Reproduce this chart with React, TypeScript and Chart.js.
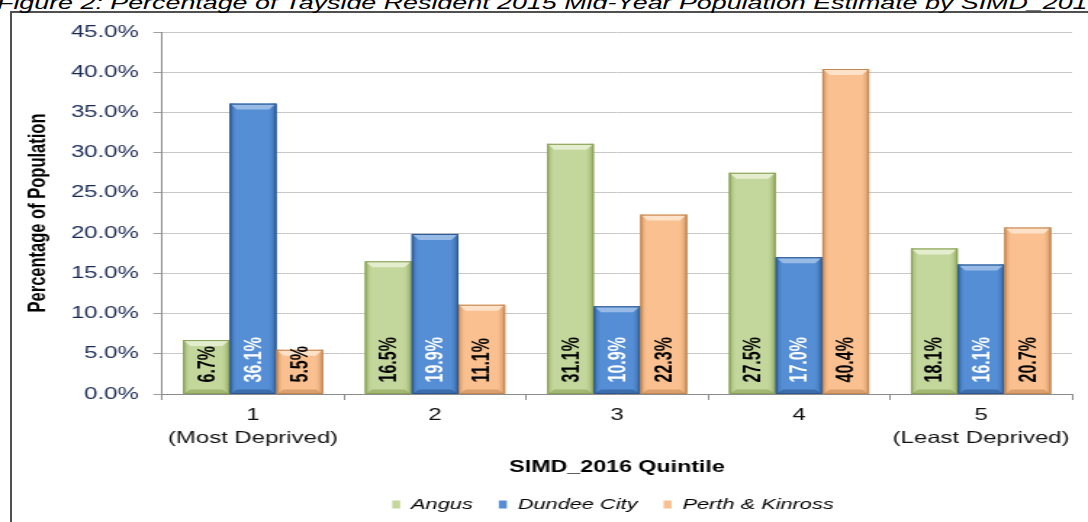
import React, { useEffect, useRef } from 'react';
import { Chart, registerables } from 'chart.js';

Chart.register(...registerables);

// ---- data ----
const categories: string[][] = [['1', '(Most Deprived)'], ['2'], ['3'], ['4'], ['5', '(Least Deprived)']];
const seriesNames = ['Angus', 'Dundee City', 'Perth & Kinross'];
const angus = [6.7, 16.5, 31.1, 27.5, 18.1];
const dundee = [36.1, 19.9, 10.9, 17.0, 16.1];
const perth = [5.5, 11.1, 22.3, 40.4, 20.7];
const yMin = 0;
const yMax = 45;
const yStep = 5;
const titleText = 'Figure 2: Percentage of Tayside Resident 2015 Mid-Year Population Estimate by SIMD_2016 Quintile';
const yTitle = 'Percentage of Population';
const xTitle = 'SIMD_2016 Quintile';

// ---- styling ----
const STRETCH = 1.45;
const PAGE_W = 1088;
const PAGE_H = 522;
const W = Math.round(PAGE_W / STRETCH);
const FONT = '"Liberation Sans", Arial, Helvetica, sans-serif';
const LEGEND_SHIFT = 53;

const palettes = [
  { base: '#c3d69b', dark: '#8aa257', light: '#e4eecf', text: '#000000' },
  { base: '#558ed5', dark: '#2b5892', light: '#97bbe6', text: '#ffffff' },
  { base: '#fac090', dark: '#c48852', light: '#fde2c9', text: '#000000' },
];

const legendShift = {
  id: 'legendShift',
  afterLayout(chart: any) {
    const lg = chart.legend;
    if (lg) {
      lg.left += LEGEND_SHIFT;
      lg.right += LEGEND_SHIFT;
    }
  },
};

const barStyle = {
  id: 'barStyle',
  afterDatasetsDraw(chart: any) {
    const ctx = chart.ctx as CanvasRenderingContext2D;
    chart.data.datasets.forEach((ds: any, di: number) => {
      const meta = chart.getDatasetMeta(di);
      const pal = palettes[di];
      meta.data.forEach((bar: any, i: number) => {
        const { x, y, base, width } = bar.getProps(['x', 'y', 'base', 'width'], true);
        const l = x - width / 2;
        const r = x + width / 2;
        ctx.save();
        // left shade
        let g = ctx.createLinearGradient(l, 0, l + 5, 0);
        g.addColorStop(0, pal.dark);
        g.addColorStop(1, pal.base + '00');
        ctx.fillStyle = g;
        ctx.fillRect(l, y, 5, base - y);
        // right shade
        g = ctx.createLinearGradient(r - 6, 0, r, 0);
        g.addColorStop(0, pal.base + '00');
        g.addColorStop(1, pal.dark);
        ctx.fillStyle = g;
        ctx.fillRect(r - 6, y, 6, base - y);
        // top bevel highlight
        const bh = Math.min(6, (base - y) / 2);
        ctx.fillStyle = pal.light;
        ctx.beginPath();
        ctx.moveTo(l + 1, y + 1);
        ctx.lineTo(r - 1, y + 1);
        ctx.lineTo(r - 5, y + bh);
        ctx.lineTo(l + 5, y + bh);
        ctx.closePath();
        ctx.fill();
        // bottom bevel shade
        ctx.fillStyle = pal.dark + '99';
        ctx.beginPath();
        ctx.moveTo(l + 1, base);
        ctx.lineTo(r - 1, base);
        ctx.lineTo(r - 5, base - 4);
        ctx.lineTo(l + 5, base - 4);
        ctx.closePath();
        ctx.fill();
        // outline
        ctx.strokeStyle = pal.dark;
        ctx.lineWidth = 1;
        ctx.strokeRect(l + 0.5, y + 0.5, width - 1, base - y - 0.5);
        // value label
        const v = ds.data[i] as number;
        ctx.translate(x, base - 11);
        ctx.rotate(-Math.PI / 2);
        ctx.font = `bold 16px ${FONT}`;
        ctx.fillStyle = pal.text;
        ctx.textAlign = 'left';
        ctx.textBaseline = 'middle';
        ctx.fillText(v.toFixed(1) + '%', 0, 1);
        ctx.restore();
      });
    });
  },
};

export default function App() {
  const ref = useRef<HTMLCanvasElement | null>(null);

  useEffect(() => {
    if (!ref.current) return;
    const series = [angus, dundee, perth];
    const chart = new Chart(ref.current, {
      type: 'bar',
      data: {
        labels: categories,
        datasets: series.map((d, i) => ({
          label: seriesNames[i],
          data: d,
          backgroundColor: palettes[i].base,
          borderColor: palettes[i].dark,
          borderWidth: 0,
          categoryPercentage: 0.77,
          barPercentage: 1.0,
        })),
      },
      options: {
        responsive: false,
        animation: false,
        events: [],
        devicePixelRatio: 1,
        layout: { padding: { top: 32, right: W - 739, bottom: 0, left: 0 } },
        plugins: {
          tooltip: { enabled: false },
          title: { display: false },
          legend: {
            display: true,
            position: 'bottom',
            labels: {
              boxWidth: 5.5,
              boxHeight: 8,
              padding: 18,
              color: '#000000',
              font: { family: FONT, size: 15, style: 'italic' },
            },
          },
        },
        scales: {
          x: {
            afterFit: (s: any) => {
              s.height = 85;
            },
            grid: {
              display: true,
              drawOnChartArea: false,
              drawTicks: true,
              offset: true,
              tickLength: 6,
              tickColor: '#8c8c8c',
            },
            border: { display: true, color: '#8c8c8c', width: 1 },
            ticks: {
              color: '#111111',
              padding: 4,
              maxRotation: 0,
              autoSkip: false,
              font: { family: FONT, size: 16.5, lineHeight: 1.38 },
            },
            title: {
              display: true,
              text: xTitle,
              color: '#000000',
              font: { family: FONT, size: 16, weight: 'bold' },
              padding: { top: 0, bottom: 2 },
            },
          },
          y: {
            min: yMin,
            max: yMax,
            afterFit: (s: any) => {
              s.width = 111.7;
            },
            grid: {
              color: '#c8c8c8',
              lineWidth: 1,
              drawTicks: true,
              tickLength: 6,
              tickColor: '#a0a0a0',
            },
            border: { display: true, color: '#8c8c8c', width: 1 },
            ticks: {
              stepSize: yStep,
              padding: 10,
              color: '#1b2a55',
              font: { family: FONT, size: 16.5 },
              callback: (v: any) => Number(v).toFixed(1) + '%',
            },
            title: {
              display: true,
              text: yTitle,
              color: '#000000',
              font: { family: FONT, size: 16.5, weight: 'bold' },
              padding: { top: 17, bottom: 0 },
            },
          },
        },
      },
      plugins: [legendShift, barStyle],
    } as any);
    return () => chart.destroy();
  }, []);

  return (
    <div
      style={{
        position: 'fixed',
        left: 0,
        top: 0,
        width: PAGE_W,
        height: PAGE_H,
        overflow: 'hidden',
        background: '#ffffff',
      }}
    >
      <div
        style={{
          position: 'absolute',
          left: 10,
          top: 11,
          width: 3000,
          height: 3000,
          border: '2px solid #505050',
          boxSizing: 'border-box',
        }}
      />
      <div
        style={{
          position: 'absolute',
          left: -3,
          top: -7,
          whiteSpace: 'nowrap',
          fontFamily: FONT,
          fontStyle: 'italic',
          fontSize: 18.5,
          lineHeight: '19px',
          color: '#000000',
          transform: `scaleX(${STRETCH})`,
          transformOrigin: 'left top',
        }}
      >
        {titleText}
      </div>
      <canvas
        ref={ref}
        width={W}
        height={PAGE_H}
        style={{ position: 'absolute', left: 0, top: 0, width: PAGE_W, height: PAGE_H }}
      />
    </div>
  );
}
